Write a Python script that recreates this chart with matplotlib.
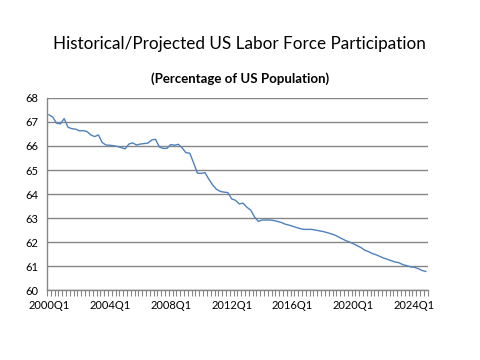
import matplotlib

matplotlib.use('Agg')
import matplotlib.pyplot as plt
from matplotlib.ticker import FixedLocator

# quarterly labor force participation, 2000Q1 .. 2024Q4
years = list(range(2000, 2025))
quarters = ["{0}Q{1}".format(y, q) for y in years for q in range(1, 5)]
participation = [
    67.30, 67.20, 66.95, 66.92, 67.14, 66.78, 66.72, 66.70,
    66.63, 66.64, 66.60, 66.46, 66.39, 66.46, 66.14, 66.04,
    66.03, 66.01, 65.98, 65.93, 65.88, 66.08, 66.13, 66.04,
    66.08, 66.10, 66.12, 66.25, 66.28, 65.96, 65.90, 65.90,
    66.06, 66.03, 66.07, 65.92, 65.72, 65.70, 65.30, 64.87,
    64.86, 64.89, 64.62, 64.38, 64.20, 64.11, 64.08, 64.06,
    63.80, 63.74, 63.59, 63.62, 63.45, 63.33, 63.05, 62.86,
    62.92, 62.92, 62.92, 62.90, 62.86, 62.82, 62.75, 62.71,
    62.66, 62.61, 62.56, 62.53, 62.53, 62.53, 62.50, 62.47,
    62.44, 62.40, 62.35, 62.30, 62.22, 62.14, 62.06, 62.00,
    61.93, 61.85, 61.77, 61.66, 61.60, 61.52, 61.47, 61.40,
    61.33, 61.28, 61.22, 61.17, 61.14, 61.06, 61.02, 60.97,
    60.95, 60.90, 60.82, 60.78,
]
label_every = 16

plt.rcParams['font.family'] = ['Lato', 'DejaVu Sans']

fig = plt.figure(figsize=(4.8, 3.6), dpi=100)
ax = fig.add_axes([0.098, 0.194, 0.793, 0.534])

x = list(range(len(quarters)))
ax.plot(x, participation, color='#4F81BD', linewidth=1.0)

ax.set_xlim(-0.5, len(quarters) - 0.5)
ax.set_ylim(60, 68)
ax.set_yticks(range(60, 69))
ax.yaxis.grid(True, color='#868686', linewidth=1.0)
ax.set_axisbelow(True)

ax.set_xticks(x[::label_every])
ax.set_xticklabels(quarters[::label_every])
ax.xaxis.set_minor_locator(FixedLocator([i - 0.5 for i in range(len(quarters) + 1)]))
ax.tick_params(axis='x', which='major', length=0, pad=7, labelsize=8)
ax.tick_params(axis='x', which='minor', length=4, color='#868686', width=0.8)
ax.tick_params(axis='y', length=0, pad=6, labelsize=8)

for side in ('top', 'right'):
    ax.spines[side].set_visible(False)
for side in ('left', 'bottom'):
    ax.spines[side].set_color('#868686')
    ax.spines[side].set_linewidth(1.0)

fig.text(0.499, 0.877, 'Historical/Projected US Labor Force Participation',
         ha='center', va='center', fontsize=12.3)
fig.text(0.5, 0.781, '(Percentage of US Population)',
         ha='center', va='center', fontsize=9.5, fontweight='bold')

fig.savefig('out.png', dpi=100)
